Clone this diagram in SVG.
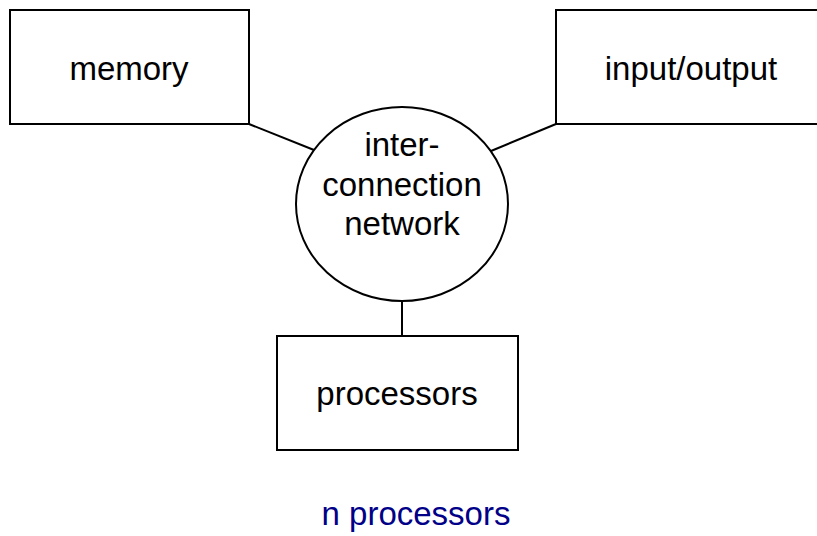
<svg xmlns="http://www.w3.org/2000/svg" width="817" height="536" viewBox="0 0 817 536">
<style>
.box{fill:#fff;stroke:#000;stroke-width:2}
.lbl{font-family:"Liberation Sans",Arial,sans-serif;font-size:33px;fill:#000;text-anchor:middle}
.edge{stroke:#000;stroke-width:2;fill:none}
</style>
<rect width="817" height="536" fill="#fff"/>
<g id="connectors">
<line class="edge" x1="249" y1="124" x2="314" y2="150"/>
<line class="edge" x1="556" y1="124" x2="491" y2="151"/>
<line class="edge" x1="402" y1="301" x2="402" y2="336"/>
</g>
<g id="memory">
<rect class="box" x="10" y="10" width="239" height="114"/>
<text class="lbl" x="129" y="80">memory</text>
</g>
<g id="io">
<rect class="box" x="556" y="10" width="272" height="114"/>
<text class="lbl" x="691" y="80">input/output</text>
</g>
<g id="network">
<ellipse class="box" cx="402" cy="204" rx="106" ry="97"/>
<text class="lbl" x="402" y="156">inter-</text>
<text class="lbl" x="402" y="196">connection</text>
<text class="lbl" x="402" y="235">network</text>
</g>
<g id="processors">
<rect class="box" x="277" y="336" width="241" height="114"/>
<text class="lbl" x="397" y="405">processors</text>
</g>
<g id="caption">
<text class="lbl" x="416" y="525" style="fill:#000088">n processors</text>
</g>
</svg>
